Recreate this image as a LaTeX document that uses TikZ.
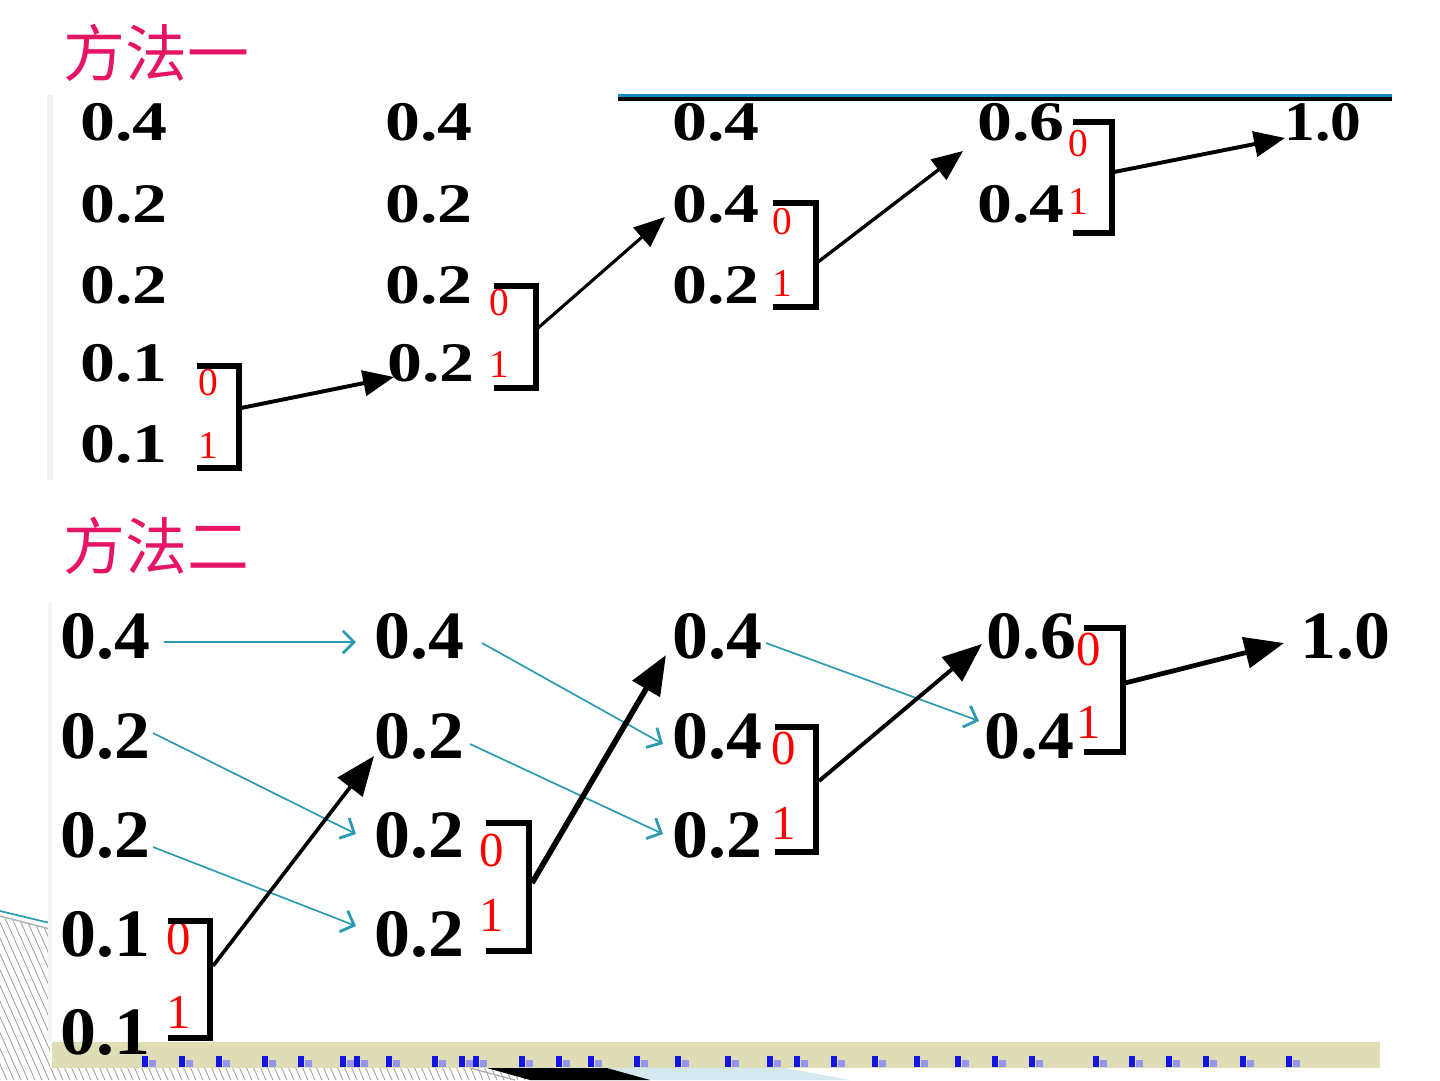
\documentclass[tikz,border=0pt]{standalone}
\usepackage{fontspec}
\setmainfont{Liberation Serif}
\newfontfamily\cjk{Noto Sans CJK SC}
\usepackage{graphicx}
\usetikzlibrary{arrows.meta}
\definecolor{titlepink}{RGB}{230,20,100}
\definecolor{tealar}{RGB}{43,155,175}
\definecolor{beigestrip}{RGB}{223,221,182}
\definecolor{topblue}{RGB}{20,140,190}
\definecolor{lblue}{RGB}{212,232,240}
\definecolor{markblue}{RGB}{20,20,225}
\newcommand\nA[1]{\scalebox{1.25}[1]{#1}}
\newcommand\nB[1]{\scalebox{1.06}[1]{#1}}
\begin{document}
\begin{tikzpicture}[x=0.025cm,y=-0.025cm,
  ta/.style={font=\fontsize{39.7}{40}\selectfont\bfseries,anchor=base west,inner sep=0pt},
  tb/.style={font=\fontsize{48.2}{48}\selectfont\bfseries,anchor=base west,inner sep=0pt},
  ra/.style={font=\fontsize{28}{28}\selectfont,text=red,inner sep=0pt},
  rb/.style={font=\fontsize{34.7}{35}\selectfont,text=red,inner sep=0pt},
  ttl/.style={font=\cjk\fontsize{44}{44}\selectfont,text=titlepink,anchor=west,inner sep=0pt},
  brk/.style={line width=4.8pt,line join=miter},
  blA/.style={line width=2.8pt,-{Triangle[length=22pt,width=18pt]}},
  blB/.style={line width=3pt,-{Triangle[length=28pt,width=22pt]}},
  tarr/.style={draw=tealar,line width=1.2pt,-{Straight Barb[length=8pt,width=16pt,line width=2pt]}},
]
\useasboundingbox (0,0) rectangle (1440,1080);
\fill[white] (0,0) rectangle (1440,1080);

% ---------- bottom decoration ----------
\begin{scope}
  \clip (0,916) -- (50,929) -- (50,1068) -- (530,1068) -- (530,1080) -- (0,1080) -- cycle;
  \foreach \hx in {-500,-493,...,560} \draw[gray!75,line width=0.6pt] (\hx,900) -- ++(80,180);
\end{scope}
\draw[tealar,line width=1.2pt] (0,911) -- (50,923);
\draw[gray!60,line width=1pt] (0,916) -- (50,929);
\fill[lblue] (607,1068) -- (785,1068) -- (850,1080) -- (650,1080) -- cycle;
\fill[black] (487,1068) -- (607,1068) -- (650,1080) -- (530,1080) -- cycle;
\draw[gray!70,line width=0.8pt] (470,1068) -- (515,1080);
\fill[beigestrip] (52,1042) rectangle (1380,1068);
\foreach \mx in {142,179,216,262,298,340,354,386,432,459,473,519,556,588,634,675,725,767,794,831,872,914,955,992,1029,1093,1129,1166,1203,1240,1286}{
  \fill[markblue] (\mx,1056) rectangle ++(6,11);
  \fill[markblue!45] (\mx+7,1060) rectangle ++(7,7);
}

% faint borders
\fill[gray!12] (47,95) rectangle (53,480);
\fill[gray!8] (48,603) rectangle (52,1042);

% ---------- titles ----------
\node[ttl] (t1) at (63,53) {方法一};
\node[ttl] (t2) at (63,546) {方法二};

% top rule
\draw[topblue,line width=1.6pt] (618,95.5) -- (1392,95.5);
\draw[black,line width=2.6pt] (618,99) -- (1392,99);

% ---------- method one ----------
\node[ta] (a11) at (80,140) {\nA{0.4}};
\node[ta] (a12) at (80,222) {\nA{0.2}};
\node[ta] (a13) at (80,303) {\nA{0.2}};
\node[ta] (a14) at (80,381) {\nA{0.1}};
\node[ta] (a15) at (80,462) {\nA{0.1}};
\node[ta] (a21) at (385,140) {\nA{0.4}};
\node[ta] (a22) at (385,222) {\nA{0.2}};
\node[ta] (a23) at (385,303) {\nA{0.2}};
\node[ta] (a24) at (387,381) {\nA{0.2}};
\node[ta] (a31) at (672,140) {\nA{0.4}};
\node[ta] (a32) at (672,222) {\nA{0.4}};
\node[ta] (a33) at (672,303) {\nA{0.2}};
\node[ta] (a41) at (977,140) {\nA{0.6}};
\node[ta] (a42) at (977,222) {\nA{0.4}};
\node[ta] (a51) at (1284,140) {\scalebox{1.1}[1]{1.0}};

\node[ra] (ra10) at (208,383) {0};
\node[ra] (ra11) at (208,445) {1};
\node[ra] (ra20) at (499,303) {0};
\node[ra] (ra21) at (499,364) {1};
\node[ra] (ra30) at (782,222) {0};
\node[ra] (ra31) at (782,283) {1};
\node[ra] (ra40) at (1078,144) {0};
\node[ra] (ra41) at (1078,201) {1};

\draw[brk] (197,366) -- (239,366) -- (239,468) -- (197,468);
\draw[brk] (494,286) -- (536,286) -- (536,388) -- (494,388);
\draw[brk] (773,203) -- (816,203) -- (816,307) -- (773,307);
\draw[brk] (1073,122) -- (1112,122) -- (1112,233) -- (1073,233);

\coordinate (sa1) at (241,408); \coordinate (ea1) at (394,377);
\coordinate (sa2) at (538,328); \coordinate (ea2) at (665,217);
\coordinate (sa3) at (818,262); \coordinate (ea3) at (963,151);
\coordinate (sa4) at (1114,172); \coordinate (ea4) at (1285,138);
\draw[blA] (sa1) -- (ea1);
\draw[blA,line width=2.2pt] (sa2) -- (ea2);
\draw[blA,line width=2.4pt] (sa3) -- (ea3);
\draw[blA] (sa4) -- (ea4);

% ---------- method two ----------
\node[tb] (b11) at (60,658) {\nB{0.4}};
\node[tb] (b12) at (60,758) {\nB{0.2}};
\node[tb] (b13) at (60,857) {\nB{0.2}};
\node[tb] (b14) at (60,956) {\nB{0.1}};
\node[tb] (b15) at (60,1054) {\nB{0.1}};
\node[tb] (b21) at (374,658) {\nB{0.4}};
\node[tb] (b22) at (374,758) {\nB{0.2}};
\node[tb] (b23) at (374,857) {\nB{0.2}};
\node[tb] (b24) at (374,956) {\nB{0.2}};
\node[tb] (b31) at (672,658) {\nB{0.4}};
\node[tb] (b32) at (672,758) {\nB{0.4}};
\node[tb] (b33) at (672,857) {\nB{0.2}};
\node[tb] (b41) at (986,658) {\nB{0.6}};
\node[tb] (b42) at (984,758) {\nB{0.4}};
\node[tb] (b51) at (1300,658) {\nB{1.0}};

\node[rb] (rb10) at (179,938) {0};
\node[rb] (rb11) at (179,1012) {1};
\node[rb] (rb20) at (492,850) {0};
\node[rb] (rb21) at (492,915) {1};
\node[rb] (rb30) at (784,748) {0};
\node[rb] (rb31) at (784,823) {1};
\node[rb] (rb40) at (1089,649) {0};
\node[rb] (rb41) at (1089,722) {1};

\draw[brk] (168,921) -- (210,921) -- (210,1038) -- (168,1038);
\draw[brk] (486,823) -- (529,823) -- (529,951) -- (486,951);
\draw[brk] (775,727) -- (816,727) -- (816,852) -- (775,852);
\draw[brk] (1084,628) -- (1123,628) -- (1123,752) -- (1084,752);

% teal arrows
\coordinate (ts1) at (164,642); \coordinate (te1) at (356,642);
\coordinate (ts2) at (153,733); \coordinate (te2) at (356,834);
\coordinate (ts3) at (153,847); \coordinate (te3) at (356,926);
\coordinate (ts4) at (482,643); \coordinate (te4) at (663,744);
\coordinate (ts5) at (470,744); \coordinate (te5) at (663,834);
\coordinate (ts6) at (766,643); \coordinate (te6) at (979,721);
\draw[tarr] (ts1) -- (te1);
\draw[tarr] (ts2) -- (te2);
\draw[tarr] (ts3) -- (te3);
\draw[tarr] (ts4) -- (te4);
\draw[tarr] (ts5) -- (te5);
\draw[tarr] (ts6) -- (te6);

% black arrows
\coordinate (sb1) at (213,966); \coordinate (eb1) at (374,756);
\coordinate (sb2) at (532,883); \coordinate (eb2) at (666,655);
\coordinate (sb3) at (819,781); \coordinate (eb3) at (982,644);
\coordinate (sb4) at (1125,683); \coordinate (eb4) at (1284,643);
\draw[blB,line width=2.6pt] (sb1) -- (eb1);
\draw[blB,line width=4pt] (sb2) -- (eb2);
\draw[blB,line width=2.8pt] (sb3) -- (eb3);
\draw[blB,line width=3.4pt] (sb4) -- (eb4);
\end{tikzpicture}
\end{document}
